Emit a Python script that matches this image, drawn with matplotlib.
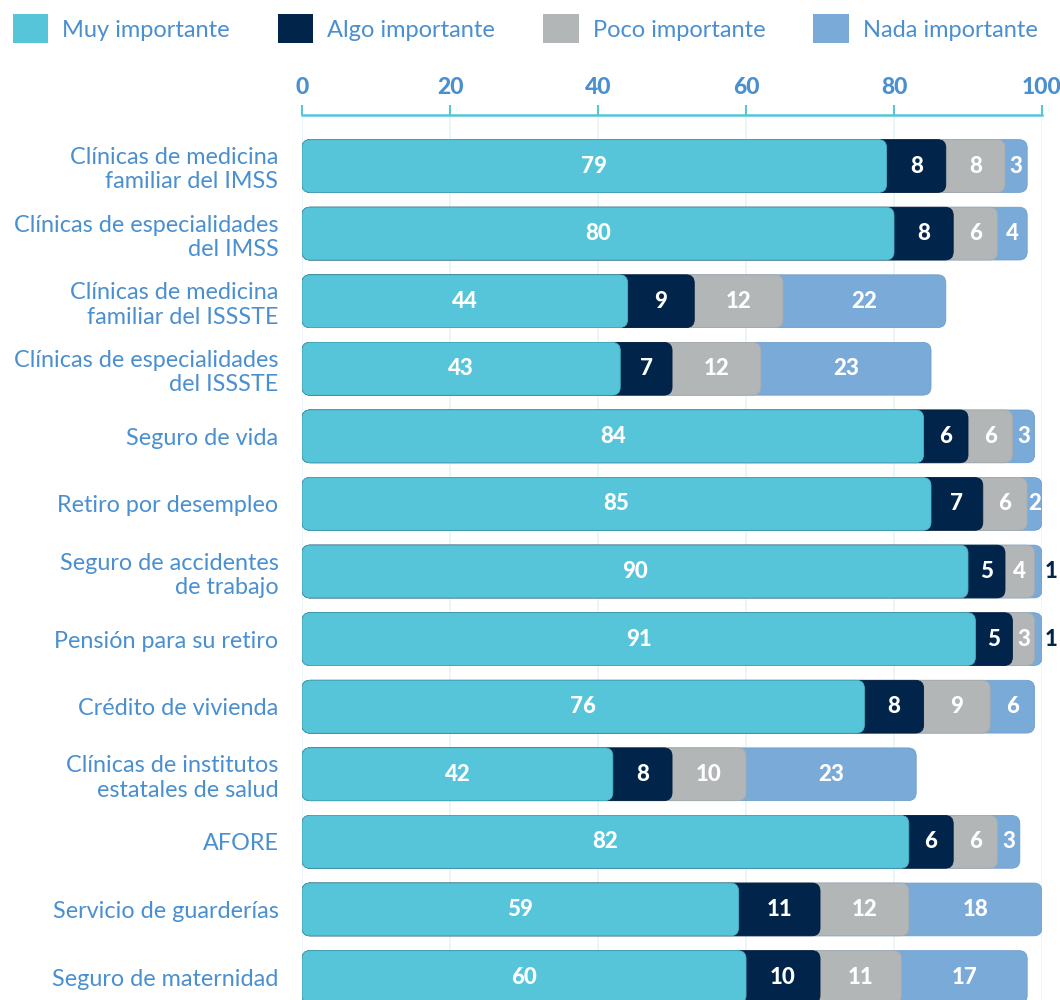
import matplotlib
matplotlib.use('Agg')
import matplotlib.pyplot as plt
from matplotlib.patches import FancyBboxPatch, Patch

plt.rcParams['font.family'] = ['Lato', 'DejaVu Sans']

# datos
categorias = ['Clínicas de medicina\nfamiliar del IMSS',
              'Clínicas de especialidades\ndel IMSS',
              'Clínicas de medicina\nfamiliar del ISSSTE',
              'Clínicas de especialidades\ndel ISSSTE',
              'Seguro de vida',
              'Retiro por desempleo',
              'Seguro de accidentes\nde trabajo',
              'Pensión para su retiro',
              'Crédito de vivienda',
              'Clínicas de institutos\nestatales de salud',
              'AFORE',
              'Servicio de guarderías',
              'Seguro de maternidad']
muy = [79, 80, 44, 43, 84, 85, 90, 91, 76, 42, 82, 59, 60]
algo = [8, 8, 9, 7, 6, 7, 5, 5, 8, 8, 6, 11, 10]
poco = [8, 6, 12, 12, 6, 6, 4, 3, 9, 10, 6, 12, 11]
nada = [3, 4, 22, 23, 3, 2, 1, 1, 6, 23, 3, 18, 17]

series = ['Muy importante', 'Algo importante', 'Poco importante', 'Nada importante']
colores = ['#56c5d9', '#00244a', '#b3b6b7', '#7aaad8']
bordes = ['#4ab3c7', '#001d3e', '#a8abac', '#6e9ecc']
azul_txt = '#4a8fd0'

fig = plt.figure(figsize=(10.6, 10), dpi=100)
ax = fig.add_axes([0.285, 0.0, 0.698, 0.885])

n = len(categorias)
ax.set_xlim(0, 100)
ax.set_ylim(12.34, -0.755)

alto = 0.78
asp = (1000 * 0.885 / 13.095) / (1060 * 0.698 / 100)  # px por unidad y / px por unidad x
valores = [muy, algo, poco, nada]

for i in range(n):
    vals = [v[i] for v in valores]
    acum = [sum(vals[:k + 1]) for k in range(4)]
    # se dibuja de atras hacia adelante para que se vean las esquinas redondeadas
    for k in range(3, -1, -1):
        p = FancyBboxPatch((0, i - alto / 2), acum[k], alto,
                           boxstyle='round,pad=0,rounding_size=1.1',
                           mutation_aspect=1 / asp,
                           fc=colores[k], ec=bordes[k], lw=0.6, zorder=3)
        ax.add_patch(p)
    inicio = 0
    for k in range(4):
        v = vals[k]
        if v <= 1:
            ax.text(acum[k] + 1.3, i, str(v), color='#00244a', fontsize=16,
                    fontweight='black', ha='center', va='center', zorder=5, clip_on=False)
        else:
            ax.text(inicio + v / 2, i, str(v), color='white', fontsize=16,
                    fontweight='black', ha='center', va='center', zorder=5)
        inicio = acum[k]

ax.set_yticks(range(n))
ax.set_yticklabels(categorias, color=azul_txt, fontsize=16.8, ha='right')
ax.tick_params(axis='y', length=0, pad=17)

ax.xaxis.tick_top()
ax.set_xticks([0, 20, 40, 60, 80, 100])
ax.tick_params(axis='x', colors='#56c5d9', length=7, width=1.5, pad=5,
               labelcolor=azul_txt, labelsize=16.5)
for t in ax.get_xticklabels():
    t.set_fontweight('black')
ax.grid(axis='x', color='#e6f5f9', lw=1.2, zorder=0)
ax.set_axisbelow(True)

for s in ['right', 'bottom', 'left']:
    ax.spines[s].set_visible(False)
ax.spines['top'].set_color('#56c5d9')
ax.spines['top'].set_linewidth(1.8)

handles = [Patch(fc=c, ec='none') for c in colores]
leg = fig.legend(handles, series, loc='upper left', ncol=4, mode='expand',
                 bbox_to_anchor=(0.003, 0.995, 0.985, 0), frameon=False,
                 fontsize=17, handlelength=1.5, handleheight=1.5, handletextpad=0.6,
                 borderaxespad=0)
for t in leg.get_texts():
    t.set_color(azul_txt)

plt.savefig('out.png', dpi=100)
